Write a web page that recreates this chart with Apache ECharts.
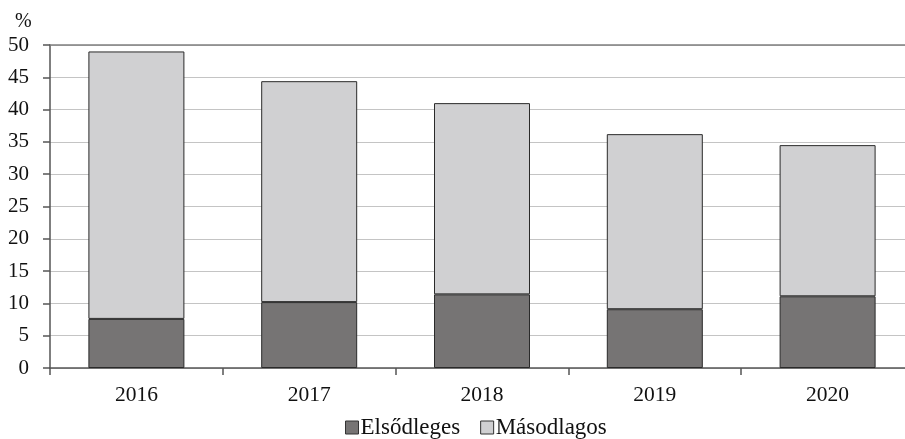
<!DOCTYPE html>
<html><head><meta charset="utf-8">
<script src="https://cdn.jsdelivr.net/npm/echarts@6/dist/echarts.min.js"></script>
<style>html,body{margin:0;padding:0;background:#fff;overflow:hidden;width:905px;height:439px}#c{width:914px;height:439px}</style>
</head><body><div id="c"></div>
<script>
const categories = ['2016','2017','2018','2019','2020'];
const elsodleges = [7.6, 10.2, 11.4, 9.1, 11.1];
const masodlagos = [41.4, 34.2, 29.6, 27.1, 23.4];
const yTicks = [0,5,10,15,20,25,30,35,40,45,50];
const FONT = '"Liberation Serif", "DejaVu Serif", serif';
const chart = echarts.init(document.getElementById('c'));
chart.setOption({
  animation:false,
  textStyle:{fontFamily:FONT},
  grid:{left:50,right:0,top:45,bottom:71},
  graphic:[{type:'text',left:15,top:12,style:{text:'%',font:'20px '+FONT,fill:'#111'}}],
  legend:{
    bottom:-5,left:340,itemWidth:13,itemHeight:13,itemGap:20,
    icon:'rect',
    textStyle:{fontFamily:FONT,fontSize:23,color:'#111',padding:[0,0,0,-3]},
    data:[
      {name:'Elsődleges',itemStyle:{color:'#767474',borderColor:'#333',borderWidth:1}},
      {name:'Másodlagos',itemStyle:{color:'#d0d0d2',borderColor:'#333',borderWidth:1}}
    ]
  },
  xAxis:[{
    type:'category',data:categories,
    axisLine:{lineStyle:{color:'#555',width:1.5}},
    axisTick:{show:true,length:7,lineStyle:{color:'#555',width:1.5},alignWithLabel:false},
    axisLabel:{fontFamily:FONT,fontSize:21.5,color:'#111',margin:16}
  },{
    type:'category',data:categories,position:'top',
    axisLine:{show:true,lineStyle:{color:'#808080',width:1.5}},
    axisTick:{show:false},axisLabel:{show:false}
  }],
  yAxis:{
    type:'value',min:yTicks[0],max:yTicks[yTicks.length-1],interval:5,
    axisLine:{show:true,lineStyle:{color:'#555',width:1.5}},
    axisTick:{show:true,length:7,lineStyle:{color:'#555',width:1.5}},
    axisLabel:{fontFamily:FONT,fontSize:21,color:'#111',margin:21},
    splitLine:{lineStyle:{color:'#c4c4c4',width:1.2}}
  },
  series:[
    {name:'Elsődleges',type:'bar',stack:'a',barWidth:96,data:elsodleges,
     itemStyle:{color:'#767474',borderColor:'#2a2a2a',borderWidth:1}},
    {name:'Másodlagos',type:'bar',stack:'a',barWidth:96,data:masodlagos,
     itemStyle:{color:'#d0d0d2',borderColor:'#2a2a2a',borderWidth:1}}
  ]
});
</script></body></html>
